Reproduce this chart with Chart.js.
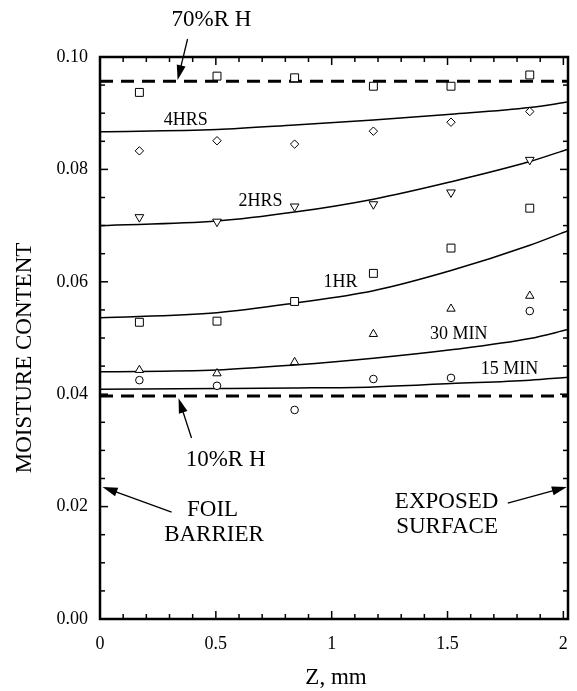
<!DOCTYPE html>
<html>
<head>
<meta charset="utf-8">
<script src="https://cdn.jsdelivr.net/npm/chart.js@4.4.0/dist/chart.umd.min.js"></script>
<style>
  html, body { margin: 0; padding: 0; background: #fff; }
  #wrap { width: 577px; height: 691px; }
</style>
</head>
<body>
<div id="wrap"><canvas id="chart" width="577" height="691"></canvas></div>
<script>
'use strict';

// measured positions through the sample (mm)
const zPoints = [0.17, 0.505, 0.84, 1.18, 1.515, 1.855];
const rh70 = [0.0937, 0.0966, 0.0963, 0.0948, 0.0948, 0.0968];
const hrs4 = [0.0833, 0.0851, 0.0845, 0.0868, 0.0884, 0.0903];
const hrs2 = [0.0715, 0.0707, 0.0734, 0.0738, 0.0759, 0.0817];
const hr1 = [0.0528, 0.0530, 0.0565, 0.0615, 0.0660, 0.0731];
const min30 = [0.0443, 0.0437, 0.0457, 0.0507, 0.0552, 0.0575];
const min15 = [0.0425, 0.0415, 0.0372, 0.0427, 0.0429, 0.0548];

// model curves
const zCurve = [0, 0.505, 0.84, 1.18, 1.515, 1.855, 2.02];
const fit4hrs = [0.0867, 0.0871, 0.0879, 0.0888, 0.0898, 0.0910, 0.0920];
const fit2hrs = [0.0700, 0.0708, 0.0724, 0.0747, 0.0778, 0.0814, 0.0836];
const fit1hr = [0.0536, 0.0545, 0.0562, 0.0584, 0.0620, 0.0665, 0.0691];
const fit30 = [0.0440, 0.0443, 0.0452, 0.0464, 0.0479, 0.0499, 0.0515];
const fit15 = [0.0409, 0.0410, 0.0411, 0.0413, 0.0419, 0.0425, 0.0430];

// equilibrium levels (70% RH, 10% RH)
const rhLevels = [0.0957, 0.0397];
const zRange = [0, 2.02];

// tick positions (labels only on the major ones)
const zTicks = [0, 0.1, 0.2, 0.3, 0.4, 0.5, 0.6, 0.7, 0.8, 0.9, 1, 1.1, 1.2, 1.3, 1.4, 1.5, 1.6, 1.7, 1.8, 1.9, 2];
const zLabels = { 0: '0', 0.5: '0.5', 1: '1', 1.5: '1.5', 2: '2' };
const mTicks = [0, 0.005, 0.01, 0.015, 0.02, 0.025, 0.03, 0.035, 0.04, 0.045, 0.05, 0.055, 0.06, 0.065, 0.07, 0.075, 0.08, 0.085, 0.09, 0.095, 0.1];
const mLabels = { 0: '0.00', 0.02: '0.02', 0.04: '0.04', 0.06: '0.06', 0.08: '0.08', 0.1: '0.10' };

const SERIF = '"Liberation Serif", "Times New Roman", serif';

const toXY = (xs, ys) => xs.map((x, i) => ({ x, y: ys[i] }));

function markerSet(label, ys, style, radius, rotation) {
    return {
        label, data: toXY(zPoints, ys), showLine: false, order: 0,
        pointStyle: style, pointRadius: radius, pointRotation: rotation || 0,
        pointBorderColor: '#000', pointBackgroundColor: '#fff', pointBorderWidth: 1
    };
}

function curveSet(label, ys) {
    return {
        label, data: toXY(zCurve, ys), showLine: true, pointRadius: 0, order: 2,
        borderColor: '#000', borderWidth: 1.5, cubicInterpolationMode: 'monotone', fill: false
    };
}

function levelSet(label, level) {
    return {
        label, data: toXY(zRange, [level, level]), showLine: true, pointRadius: 0, order: 1,
        borderColor: '#000', borderWidth: 3, borderDash: [13, 8], fill: false
    };
}

// text notes, in data units
const notes = [
    { text: '4HRS', z: 0.37, m: 0.0888, size: 18 },
    { text: '2HRS', z: 0.693, m: 0.0743, size: 18 },
    { text: '1HR', z: 1.038, m: 0.0600, size: 18 },
    { text: '30 MIN', z: 1.548, m: 0.0507, size: 18 },
    { text: '15 MIN', z: 1.768, m: 0.0445, size: 18 },
    { text: '70%R H', z: 0.481, m: 0.1066, size: 23 },
    { text: '10%R H', z: 0.542, m: 0.0283, size: 23 },
    { text: 'FOIL', z: 0.486, m: 0.0194, size: 23 },
    { text: 'BARRIER', z: 0.492, m: 0.0149, size: 23 },
    { text: 'EXPOSED', z: 1.496, m: 0.0208, size: 23 },
    { text: 'SURFACE', z: 1.498, m: 0.0164, size: 23 }
];

const arrows = [
    { from: [0.378, 0.1032], to: [0.335, 0.0959] },
    { from: [0.395, 0.0322], to: [0.339, 0.0393] },
    { from: [0.309, 0.0190], to: [0.011, 0.0235] },
    { from: [1.760, 0.0206], to: [2.015, 0.0235] }
];

function seg(ctx, x1, y1, x2, y2) {
    ctx.beginPath(); ctx.moveTo(x1, y1); ctx.lineTo(x2, y2); ctx.stroke();
}

function drawArrow(ctx, x1, y1, x2, y2) {
    const a = Math.atan2(y2 - y1, x2 - x1), c = Math.cos(a), s = Math.sin(a);
    const head = 15, half = 4.5;
    seg(ctx, x1, y1, x2 - c * head * 0.8, y2 - s * head * 0.8);
    ctx.beginPath();
    ctx.moveTo(x2, y2);
    ctx.lineTo(x2 - head * c + half * s, y2 - head * s - half * c);
    ctx.lineTo(x2 - head * c - half * s, y2 - head * s + half * c);
    ctx.closePath();
    ctx.fill();
}

const frameAndNotes = {
    id: 'frameAndNotes',
    afterDraw(chart) {
        const { ctx, chartArea: a, scales: { x, y } } = chart;
        ctx.save();
        ctx.strokeStyle = '#000';
        ctx.fillStyle = '#000';

        // inward ticks on all four sides
        ctx.lineWidth = 1.5;
        x.ticks.forEach(t => {
            const px = x.getPixelForValue(t.value);
            const len = zLabels[t.value] !== undefined ? 8 : 5;
            seg(ctx, px, a.bottom, px, a.bottom - len);
            seg(ctx, px, a.top, px, a.top + len);
        });
        y.ticks.forEach(t => {
            const py = y.getPixelForValue(t.value);
            const len = mLabels[t.value] !== undefined ? 8 : 5;
            seg(ctx, a.left, py, a.left + len, py);
            seg(ctx, a.right, py, a.right - len, py);
        });
        ctx.lineWidth = 2.5;
        ctx.strokeRect(a.left, a.top, a.right - a.left, a.bottom - a.top);

        // notes and arrows
        ctx.textAlign = 'center';
        ctx.textBaseline = 'middle';
        notes.forEach(n => {
            ctx.font = `${n.size}px ${SERIF}`;
            ctx.fillText(n.text, x.getPixelForValue(n.z), y.getPixelForValue(n.m));
        });
        ctx.lineWidth = 1.3;
        arrows.forEach(r => drawArrow(ctx,
            x.getPixelForValue(r.from[0]), y.getPixelForValue(r.from[1]),
            x.getPixelForValue(r.to[0]), y.getPixelForValue(r.to[1])));

        // axis titles
        ctx.font = `23px ${SERIF}`;
        ctx.fillText('Z, mm', 336, 678);
        ctx.translate(25, 358);
        ctx.rotate(-Math.PI / 2);
        ctx.fillText('MOISTURE CONTENT', 0, 0);
        ctx.restore();
    }
};

const useTicks = list => scale => {
    scale.ticks = list.map(value => ({ value }));
};

new Chart(document.getElementById('chart'), {
    type: 'scatter',
    data: {
        datasets: [
            markerSet('70%RH box', rh70, 'rect', 5.6),
            Object.assign(markerSet('70%RH cross', rh70, 'cross', 3.9), { pointBackgroundColor: '#000' }),
            markerSet('4HRS', hrs4, 'rectRot', 4.2),
            markerSet('2HRS', hrs2, 'triangle', 5, 180),
            markerSet('1HR', hr1, 'rect', 5.6),
            markerSet('30 MIN', min30, 'triangle', 4.8),
            markerSet('15 MIN', min15, 'circle', 3.8),
            curveSet('4HRS fit', fit4hrs),
            curveSet('2HRS fit', fit2hrs),
            curveSet('1HR fit', fit1hr),
            curveSet('30 MIN fit', fit30),
            curveSet('15 MIN fit', fit15),
            levelSet('70%R H', rhLevels[0]),
            levelSet('10%R H', rhLevels[1])
        ]
    },
    options: {
        responsive: false,
        animation: false,
        devicePixelRatio: 1,
        layout: { padding: { top: 57, right: 9, left: 0, bottom: 0 } },
        plugins: { legend: { display: false }, tooltip: { enabled: false } },
        scales: {
            x: {
                type: 'linear', min: zRange[0], max: zRange[1], bounds: 'data',
                grid: { display: false, drawTicks: false },
                border: { display: false },
                afterBuildTicks: useTicks(zTicks),
                afterFit: s => { s.height = 72; s.paddingLeft = 0; s.paddingRight = 0; },
                ticks: {
                    autoSkip: false, maxRotation: 0, padding: 14,
                    color: '#000', font: { family: SERIF, size: 18 },
                    callback: v => zLabels[v] || ''
                }
            },
            y: {
                type: 'linear', min: 0, max: 0.10, bounds: 'data',
                grid: { display: false, drawTicks: false },
                border: { display: false },
                afterBuildTicks: useTicks(mTicks),
                afterFit: s => { s.width = 100; s.paddingTop = 0; s.paddingBottom = 0; },
                ticks: {
                    autoSkip: false, padding: 12,
                    color: '#000', font: { family: SERIF, size: 18 },
                    callback: v => mLabels[v] || ''
                }
            }
        }
    },
    plugins: [frameAndNotes]
});
</script>
</body>
</html>
